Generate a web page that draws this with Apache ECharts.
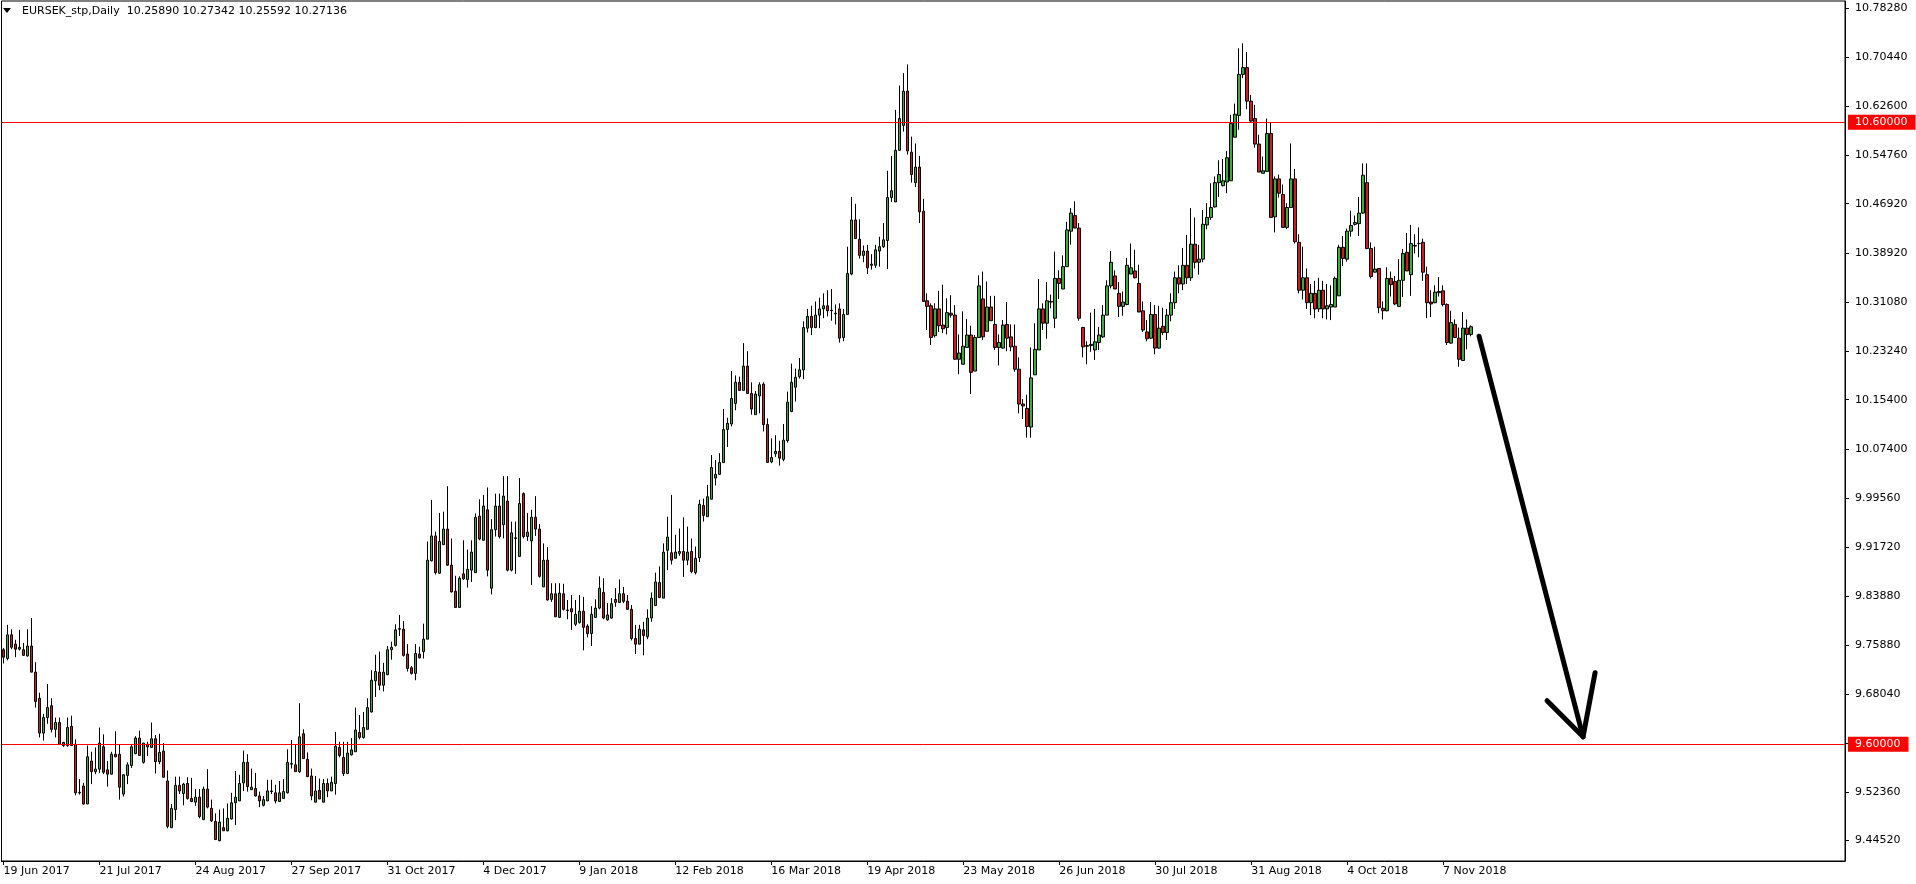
<!DOCTYPE html>
<html><head><meta charset="utf-8">
<script src="https://cdn.jsdelivr.net/npm/echarts@6/dist/echarts.min.js"></script>
<style>html,body{margin:0;padding:0;background:#fff;overflow:hidden}#c{width:1916px;height:884px}</style>
</head><body><div id="c"></div>
<script>
const titleText = 'EURSEK_stp,Daily  10.25890 10.27342 10.25592 10.27136';
const firstDay = [2017, 5, 19];
const holidays = ['2017-12-25', '2018-01-01'];
const monthNames = ['Jan','Feb','Mar','Apr','May','Jun','Jul','Aug','Sep','Oct','Nov','Dec'];

const open = [
9.752,9.738,9.776,9.761,9.753,9.752,9.742,9.758,9.716,9.674,
9.618,9.643,9.662,9.624,9.635,9.603,9.598,9.629,9.600,9.523,
9.533,9.504,9.573,9.556,9.560,9.596,9.559,9.552,9.584,9.584,
9.520,9.550,9.566,9.585,9.610,9.571,9.600,9.595,9.609,9.572,
9.589,9.541,9.466,9.495,9.534,9.521,9.537,9.513,9.507,9.515,
9.479,9.528,9.497,9.476,9.445,9.466,9.461,9.480,9.506,9.509,
9.538,9.571,9.527,9.529,9.517,9.502,9.509,9.525,9.522,9.508,
9.513,9.522,9.569,9.567,9.556,9.617,9.576,9.549,9.507,9.526,
9.507,9.537,9.525,9.537,9.595,9.579,9.553,9.583,9.588,9.619,
9.611,9.624,9.652,9.702,9.716,9.695,9.712,9.752,9.759,9.786,
9.785,9.745,9.723,9.714,9.745,9.749,9.769,9.895,9.935,9.875,
9.921,9.946,9.888,9.846,9.820,9.874,9.865,9.880,9.876,9.967,
9.928,9.977,9.851,9.945,9.983,9.953,9.991,9.880,9.932,9.902,
10.003,9.934,9.927,9.965,9.946,9.853,9.896,9.833,9.842,9.804,
9.842,9.816,9.818,9.793,9.796,9.814,9.790,9.778,9.804,9.819,
9.844,9.800,9.803,9.833,9.828,9.842,9.830,9.817,9.770,9.761,
9.784,9.773,9.803,9.823,9.860,9.835,9.912,9.908,9.899,9.907,
9.910,9.896,9.910,9.876,9.900,9.984,9.966,9.994,10.028,10.034,
10.053,10.106,10.115,10.148,10.182,10.169,10.208,10.164,10.130,10.160,
10.179,10.114,10.054,10.067,10.071,10.058,10.088,10.135,10.174,10.191,
10.202,10.269,10.288,10.270,10.290,10.300,10.305,10.298,10.293,10.300,
10.254,10.291,10.356,10.443,10.412,10.386,10.393,10.370,10.370,10.393,
10.400,10.410,10.479,10.472,10.555,10.595,10.650,10.552,10.503,10.528,
10.457,10.313,10.305,10.257,10.300,10.274,10.270,10.293,10.290,10.219,
10.211,10.238,10.258,10.200,10.254,10.316,10.264,10.303,10.275,10.238,
10.237,10.275,10.255,10.240,10.203,10.147,10.140,10.110,10.194,10.234,
10.300,10.277,10.312,10.285,10.349,10.332,10.368,10.425,10.450,10.430,
10.270,10.241,10.241,10.234,10.246,10.255,10.290,10.337,10.353,10.325,
10.304,10.307,10.356,10.361,10.341,10.297,10.263,10.253,10.291,10.237,
10.272,10.262,10.290,10.310,10.350,10.340,10.370,10.350,10.404,10.375,
10.380,10.435,10.447,10.464,10.503,10.498,10.504,10.506,10.576,10.611,
10.677,10.688,10.634,10.606,10.565,10.518,10.521,10.582,10.448,10.509,
10.484,10.431,10.463,10.509,10.407,10.330,10.350,10.310,10.325,10.300,
10.330,10.300,10.303,10.303,10.321,10.399,10.380,10.425,10.436,10.437,
10.454,10.503,10.397,10.359,10.365,10.301,10.297,10.349,10.344,10.304,
10.346,10.391,10.355,10.402,10.405,10.407,10.355,10.311,10.310,10.326,
10.329,10.307,10.245,10.275,10.253,10.217,10.269,10.25890];

const high = [
9.755,9.792,9.785,9.768,9.784,9.763,9.785,9.803,9.732,9.683,
9.649,9.697,9.674,9.643,9.643,9.604,9.643,9.646,9.608,9.544,
9.538,9.598,9.588,9.595,9.627,9.616,9.573,9.588,9.621,9.600,
9.552,9.571,9.600,9.613,9.622,9.602,9.604,9.635,9.615,9.617,
9.602,9.558,9.504,9.548,9.548,9.538,9.547,9.546,9.528,9.528,
9.532,9.560,9.511,9.489,9.495,9.497,9.505,9.522,9.557,9.551,
9.590,9.584,9.561,9.554,9.524,9.517,9.543,9.543,9.535,9.541,
9.544,9.592,9.607,9.600,9.666,9.624,9.587,9.561,9.549,9.545,
9.544,9.545,9.548,9.620,9.604,9.604,9.604,9.610,9.659,9.647,
9.652,9.674,9.719,9.744,9.749,9.731,9.758,9.765,9.793,9.808,
9.798,9.761,9.726,9.761,9.757,9.794,9.926,9.993,9.942,9.972,
9.974,10.015,9.931,9.871,9.870,9.928,9.913,9.928,9.971,9.994,
10.001,10.013,9.962,10.003,10.003,10.031,10.031,9.958,9.958,10.028,
10.005,9.972,9.977,9.999,9.954,9.923,9.917,9.859,9.859,9.859,
9.858,9.832,9.840,9.832,9.840,9.837,9.793,9.822,9.833,9.870,
9.867,9.827,9.835,9.851,9.865,9.853,9.840,9.824,9.792,9.792,
9.797,9.817,9.844,9.876,9.886,9.923,9.966,10.001,9.937,9.947,
9.965,9.950,9.931,9.918,9.993,9.995,10.017,10.065,10.057,10.068,
10.139,10.125,10.200,10.193,10.191,10.245,10.232,10.182,10.168,10.182,
10.182,10.124,10.092,10.097,10.088,10.115,10.167,10.212,10.204,10.221,
10.280,10.300,10.305,10.312,10.318,10.325,10.330,10.332,10.307,10.309,
10.300,10.400,10.480,10.469,10.444,10.402,10.403,10.388,10.403,10.416,
10.438,10.522,10.546,10.620,10.659,10.679,10.693,10.577,10.566,10.546,
10.477,10.325,10.309,10.309,10.329,10.339,10.317,10.322,10.306,10.259,
10.296,10.284,10.273,10.258,10.354,10.360,10.344,10.321,10.321,10.259,
10.282,10.311,10.275,10.275,10.222,10.155,10.162,10.238,10.277,10.348,
10.309,10.343,10.323,10.392,10.362,10.386,10.440,10.462,10.473,10.438,
10.271,10.248,10.294,10.300,10.271,10.306,10.346,10.393,10.362,10.343,
10.328,10.382,10.405,10.395,10.371,10.312,10.282,10.311,10.306,10.305,
10.302,10.300,10.325,10.360,10.370,10.398,10.419,10.462,10.447,10.403,
10.459,10.470,10.502,10.513,10.539,10.541,10.554,10.612,10.630,10.719,
10.727,10.713,10.644,10.628,10.580,10.545,10.606,10.600,10.513,10.516,
10.500,10.470,10.566,10.525,10.420,10.400,10.365,10.340,10.345,10.350,
10.345,10.340,10.338,10.352,10.403,10.417,10.429,10.458,10.450,10.480,
10.534,10.534,10.407,10.400,10.365,10.312,10.367,10.360,10.353,10.380,
10.396,10.422,10.435,10.420,10.431,10.413,10.368,10.330,10.338,10.351,
10.338,10.309,10.297,10.283,10.270,10.295,10.283,10.27342];

const low = [
9.730,9.735,9.753,9.740,9.751,9.742,9.741,9.716,9.659,9.611,
9.606,9.633,9.619,9.611,9.600,9.596,9.596,9.598,9.518,9.519,
9.503,9.504,9.536,9.552,9.554,9.552,9.532,9.552,9.579,9.511,
9.516,9.536,9.562,9.584,9.582,9.569,9.581,9.595,9.553,9.568,
9.547,9.465,9.466,9.478,9.520,9.502,9.511,9.507,9.501,9.481,
9.478,9.497,9.475,9.446,9.444,9.461,9.460,9.479,9.470,9.509,
9.525,9.524,9.527,9.516,9.499,9.500,9.509,9.520,9.505,9.508,
9.513,9.521,9.561,9.556,9.554,9.577,9.548,9.510,9.507,9.512,
9.507,9.515,9.525,9.519,9.579,9.549,9.552,9.582,9.588,9.608,
9.609,9.624,9.651,9.676,9.687,9.685,9.711,9.736,9.757,9.774,
9.741,9.717,9.712,9.703,9.738,9.738,9.769,9.894,9.873,9.875,
9.921,9.887,9.844,9.820,9.820,9.864,9.852,9.861,9.876,9.928,
9.928,9.870,9.841,9.934,9.931,9.931,9.878,9.878,9.874,9.902,
9.931,9.927,9.856,9.935,9.868,9.853,9.831,9.829,9.805,9.803,
9.815,9.801,9.784,9.790,9.794,9.751,9.772,9.758,9.804,9.817,
9.801,9.799,9.802,9.821,9.827,9.827,9.816,9.767,9.745,9.761,
9.743,9.769,9.797,9.823,9.835,9.835,9.880,9.889,9.899,9.903,
9.869,9.888,9.875,9.873,9.893,9.958,9.966,9.994,10.016,10.033,
10.052,10.078,10.111,10.137,10.169,10.169,10.164,10.130,10.130,10.132,
10.103,10.053,10.052,10.062,10.048,10.055,10.085,10.134,10.151,10.188,
10.187,10.262,10.258,10.269,10.269,10.285,10.288,10.281,10.275,10.246,
10.248,10.291,10.354,10.413,10.381,10.375,10.356,10.363,10.366,10.368,
10.398,10.364,10.472,10.472,10.554,10.585,10.548,10.503,10.496,10.438,
10.312,10.266,10.242,10.254,10.263,10.261,10.259,10.286,10.219,10.195,
10.211,10.238,10.163,10.200,10.254,10.250,10.264,10.281,10.234,10.209,
10.236,10.232,10.232,10.199,10.132,10.123,10.093,10.093,10.194,10.234,
10.266,10.252,10.301,10.269,10.316,10.332,10.368,10.403,10.430,10.281,
10.222,10.211,10.231,10.218,10.234,10.253,10.290,10.333,10.332,10.287,
10.289,10.306,10.356,10.349,10.295,10.263,10.248,10.252,10.227,10.236,
10.258,10.250,10.280,10.300,10.325,10.330,10.340,10.345,10.365,10.355,
10.375,10.428,10.443,10.463,10.480,10.497,10.486,10.506,10.576,10.588,
10.671,10.621,10.600,10.559,10.520,10.518,10.521,10.447,10.423,10.479,
10.431,10.428,10.463,10.405,10.325,10.315,10.300,10.290,10.285,10.295,
10.285,10.283,10.282,10.303,10.321,10.369,10.376,10.416,10.434,10.417,
10.453,10.396,10.349,10.359,10.293,10.283,10.296,10.320,10.306,10.304,
10.319,10.361,10.321,10.389,10.383,10.345,10.285,10.287,10.309,10.320,
10.304,10.242,10.244,10.254,10.207,10.217,10.235,10.25592];

const close = [
9.740,9.776,9.756,9.753,9.756,9.743,9.758,9.716,9.669,9.618,
9.643,9.659,9.624,9.635,9.600,9.598,9.627,9.598,9.522,9.522,
9.504,9.580,9.556,9.560,9.602,9.555,9.552,9.584,9.580,9.531,
9.551,9.567,9.596,9.610,9.582,9.602,9.596,9.609,9.572,9.587,
9.547,9.468,9.497,9.534,9.525,9.536,9.513,9.508,9.515,9.484,
9.528,9.499,9.477,9.447,9.475,9.461,9.481,9.506,9.515,9.537,
9.571,9.532,9.531,9.517,9.509,9.511,9.525,9.524,9.509,9.522,
9.524,9.571,9.568,9.556,9.612,9.577,9.548,9.517,9.525,9.512,
9.537,9.525,9.539,9.597,9.582,9.553,9.586,9.591,9.623,9.611,
9.627,9.659,9.703,9.717,9.695,9.716,9.752,9.756,9.784,9.785,
9.743,9.722,9.714,9.746,9.739,9.769,9.896,9.935,9.876,9.926,
9.946,9.888,9.845,9.820,9.867,9.866,9.881,9.909,9.965,9.930,
9.983,9.880,9.945,9.983,9.934,9.999,9.880,9.940,9.931,9.987,
9.934,9.941,9.965,9.946,9.870,9.896,9.832,9.842,9.805,9.843,
9.817,9.815,9.813,9.809,9.814,9.788,9.778,9.809,9.819,9.851,
9.803,9.808,9.826,9.828,9.842,9.830,9.817,9.770,9.761,9.785,
9.775,9.803,9.835,9.861,9.836,9.909,9.933,9.896,9.909,9.910,
9.896,9.909,9.878,9.899,9.986,9.968,9.998,10.045,10.034,10.053,
10.106,10.116,10.156,10.182,10.169,10.208,10.164,10.139,10.163,10.178,
10.114,10.053,10.061,10.071,10.060,10.089,10.150,10.182,10.190,10.202,
10.270,10.288,10.270,10.290,10.300,10.305,10.297,10.297,10.292,10.253,
10.291,10.357,10.443,10.413,10.386,10.393,10.366,10.372,10.395,10.400,
10.411,10.479,10.490,10.555,10.606,10.650,10.554,10.516,10.528,10.456,
10.312,10.304,10.254,10.300,10.273,10.268,10.294,10.290,10.219,10.229,
10.240,10.258,10.198,10.254,10.337,10.255,10.303,10.281,10.238,10.246,
10.274,10.253,10.239,10.203,10.147,10.144,10.111,10.189,10.235,10.300,
10.277,10.313,10.311,10.349,10.341,10.368,10.427,10.454,10.430,10.285,
10.239,10.240,10.243,10.247,10.258,10.290,10.337,10.375,10.332,10.304,
10.311,10.370,10.366,10.350,10.295,10.266,10.252,10.291,10.237,10.269,
10.262,10.290,10.310,10.350,10.340,10.370,10.350,10.404,10.375,10.380,
10.436,10.447,10.463,10.503,10.516,10.506,10.543,10.598,10.613,10.677,
10.688,10.634,10.602,10.565,10.520,10.522,10.582,10.447,10.509,10.486,
10.431,10.463,10.509,10.408,10.330,10.350,10.310,10.325,10.300,10.330,
10.300,10.305,10.307,10.349,10.399,10.381,10.425,10.434,10.439,10.454,
10.515,10.397,10.352,10.364,10.302,10.297,10.349,10.339,10.308,10.346,
10.389,10.361,10.405,10.401,10.405,10.359,10.310,10.308,10.327,10.328,
10.307,10.246,10.278,10.254,10.219,10.269,10.259,10.27136];

const yTickValues = [10.7828,10.7044,10.6260,10.5476,10.4692,10.3892,10.3108,10.2324,10.1540,10.0740,9.9956,9.9172,9.8388,9.7588,9.6804,9.6020,9.5236,9.4452];
const yHiddenLabels = [9.6020];
const levelLines = [10.6, 9.6];
const lastPrice = 10.27136;
const arrowShaft = [[369, 10.256], [395, 9.612]];
const arrowHead = [[386, 9.670], [395, 9.612], [398, 9.715]];
const totalSlots = 461;
const labelStep = 24;
const yMin = 9.41238, yMax = 10.7950;

// trading-day categories
const cats = [];
{
  const d = new Date(Date.UTC(firstDay[0], firstDay[1], firstDay[2]));
  while (cats.length < close.length) {
    const dow = d.getUTCDay();
    const iso = d.toISOString().slice(0, 10);
    if (dow !== 0 && dow !== 6 && holidays.indexOf(iso) < 0) {
      cats.push(d.getUTCDate() + ' ' + monthNames[d.getUTCMonth()] + ' ' + d.getUTCFullYear());
    }
    d.setUTCDate(d.getUTCDate() + 1);
  }
  while (cats.length < totalSlots) cats.push('');
}
const candles = close.map((c, i) => [open[i], c, low[i], high[i]]);
const showIdx = (i) => i % labelStep === 0 && cats[i] !== '';

const FONT = 'DejaVu Sans';
const boxLabel = (bg) => ({
  show: true, position: 'end', distance: 3,
  formatter: (p) => Number(p.value).toFixed(5),
  backgroundColor: bg, color: '#fff', fontFamily: FONT, fontSize: 11,
  padding: [2, 8, 1, 7], lineHeight: 12
});

const chart = echarts.init(document.getElementById('c'), null, {renderer: 'canvas'});
chart.setOption({
  animation: false,
  backgroundColor: '#ffffff',
  textStyle: {fontFamily: FONT},
  grid: {left: 1.5, right: 71, top: 1, bottom: 23, show: true, borderColor: '#000', borderWidth: 1, containLabel: false},
  xAxis: {
    type: 'category', data: cats, boundaryGap: true,
    axisLine: {show: true, lineStyle: {color: '#000', width: 1}},
    axisTick: {show: true, alignWithLabel: true, interval: showIdx, length: 4, lineStyle: {color: '#000'}},
    axisLabel: {interval: showIdx, align: 'left', margin: 5, color: '#000', fontFamily: FONT, fontSize: 11, showMinLabel: true, showMaxLabel: true},
    splitLine: {show: false}
  },
  yAxis: {
    type: 'value', position: 'right', min: yMin, max: yMax,
    axisLine: {show: true, lineStyle: {color: '#000', width: 1}},
    axisTick: {show: true, length: 4, customValues: yTickValues, lineStyle: {color: '#000'}},
    axisLabel: {customValues: yTickValues.filter(v => yHiddenLabels.indexOf(v) < 0), formatter: (v) => v.toFixed(5), color: '#000', fontFamily: FONT, fontSize: 11, margin: 10},
    splitLine: {show: false}
  },
  graphic: [
    {type: 'polygon', shape: {points: [[3, 8], [11, 8], [7, 13]]}, style: {fill: '#000'}},
    {type: 'text', left: 22, top: 6, style: {text: titleText, font: '11px "DejaVu Sans"', fill: '#000'}}
  ],
  series: [
    {
      type: 'candlestick', data: candles, barWidth: 3,
      itemStyle: {color: '#35b035', color0: '#d41a1a', borderColor: '#000', borderColor0: '#000', borderWidth: 1},
      markLine: {
        silent: true, symbol: ['none', 'none'], animation: false,
        data: levelLines.map(v => ({yAxis: v, lineStyle: {color: '#ff0000', width: 1, type: 'solid'}, label: boxLabel('#ff0000')}))
          .concat([{yAxis: lastPrice, lineStyle: {opacity: 0, width: 0}, label: boxLabel('#000000')}])
      }
    },
    {type: 'line', data: arrowShaft, symbol: 'none', silent: true, z: 5, lineStyle: {color: '#000', width: 5, cap: 'round', join: 'round'}},
    {type: 'line', data: arrowHead, symbol: 'none', silent: true, z: 5, lineStyle: {color: '#000', width: 5, cap: 'round', join: 'round'}}
  ]
});
</script>
</body></html>
